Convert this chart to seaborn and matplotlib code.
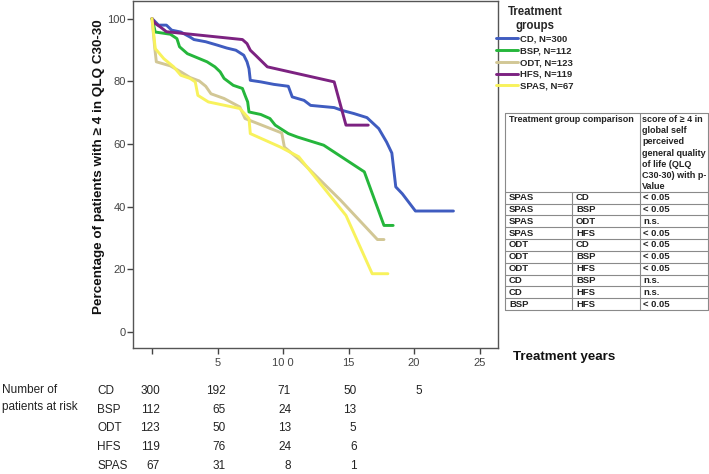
import numpy as np
import pandas as pd
import seaborn as sns
import matplotlib.pyplot as plt
from matplotlib.lines import Line2D
import matplotlib.transforms as mtransforms

# ---------------- data ----------------
groups = ["CD", "BSP", "ODT", "HFS", "SPAS"]
group_n = [300, 112, 123, 119, 67]
group_colors = ["#3f5cc0", "#25b63b", "#d2c795", "#7c2281", "#f8f25c"]

cd_x = [0, 0.5, 1.1, 1.5, 2.2, 2.9, 3.2, 4.1, 5.0, 5.7, 6.4, 7.0, 7.25, 7.4, 7.5, 8.3, 9.3, 10.4, 10.7, 11.6, 12.1, 13.9, 14.5, 15.4, 16.4, 17.3, 17.9, 18.3, 18.6, 19.1, 20.1, 23.0]
cd_y = [100, 97.9, 97.9, 96.3, 95.7, 94.1, 93.3, 92.6, 91.5, 90.6, 89.9, 88.3, 86.2, 84.0, 80.3, 79.8, 79.0, 78.4, 75.0, 73.9, 72.3, 71.6, 70.7, 69.7, 68.4, 64.9, 60.6, 57.1, 46.3, 44.1, 38.6, 38.6]

bsp_x = [0, 0.25, 1.4, 1.9, 2.1, 2.7, 4.2, 4.8, 5.2, 5.5, 6.2, 6.9, 7.1, 7.3, 7.4, 8.3, 9.0, 9.4, 10.4, 11.1, 13.1, 16.2, 17.7, 18.4]
bsp_y = [100, 95.7, 95.0, 93.6, 91.0, 88.8, 86.2, 84.6, 83.0, 80.9, 78.7, 77.7, 75.5, 73.4, 70.2, 69.4, 68.1, 66.0, 63.3, 62.2, 59.6, 51.1, 34.0, 34.0]

odt_x = [0, 0.2, 0.33, 1.4, 2.2, 2.9, 3.6, 4.1, 4.5, 5.5, 6.7, 7.1, 9.9, 10.1, 11.3, 14.4, 17.2, 17.7]
odt_y = [100, 91.0, 86.2, 84.9, 83.0, 81.2, 80.1, 78.4, 76.0, 74.5, 71.8, 68.1, 63.5, 59.0, 54.8, 42.0, 29.5, 29.5]

hfs_x = [0, 0.25, 0.64, 1.1, 6.9, 7.25, 7.5, 7.9, 8.8, 13.9, 14.8, 16.5]
hfs_y = [100, 98.4, 97.3, 95.8, 93.3, 92.0, 89.9, 88.3, 84.6, 79.8, 66.0, 66.0]

spas_x = [0, 0.25, 0.9, 1.65, 2.2, 2.9, 3.3, 3.5, 4.3, 6.7, 7.4, 7.5, 9.8, 11.2, 14.8, 16.8, 18.0]
spas_y = [100, 90.4, 87.2, 84.6, 81.9, 80.9, 79.8, 75.5, 73.4, 71.3, 68.1, 63.3, 59.0, 55.9, 37.2, 18.6, 18.6]

x_ticks = [0, 5, 10, 15, 20, 25]
x_tick_labels = ["", "5", "10 0", "15", "20", "25"]
y_ticks = [0, 20, 40, 60, 80, 100]

risk_years = [0, 5, 10, 15, 20]
risk_cd = [300, 192, 71, 50, 5]
risk_bsp = [112, 65, 24, 13, None]
risk_odt = [123, 50, 13, 5, None]
risk_hfs = [119, 76, 24, 6, None]
risk_spas = [67, 31, 8, 1, None]

cmp_a = ["SPAS", "SPAS", "SPAS", "SPAS", "ODT", "ODT", "ODT", "CD", "CD", "BSP"]
cmp_b = ["CD", "BSP", "ODT", "HFS", "CD", "BSP", "HFS", "BSP", "HFS", "HFS"]
cmp_p = ["< 0.05", "< 0.05", "n.s.", "< 0.05", "< 0.05", "< 0.05", "< 0.05", "n.s.", "n.s.", "< 0.05"]

# ---------------- build frame ----------------
xs = [cd_x, bsp_x, odt_x, hfs_x, spas_x]
ys = [cd_y, bsp_y, odt_y, hfs_y, spas_y]
rows = []
for g, n, gx, gy in zip(groups, group_n, xs, ys):
    lab = f"{g}, N={n}"
    for i, (a, b) in enumerate(zip(gx, gy)):
        rows.append({"group": lab, "years": a, "pct": b, "order": i})
df = pd.DataFrame(rows)
labels = [f"{g}, N={n}" for g, n in zip(groups, group_n)]

# ---------------- figure ----------------
sns.set_theme(style="ticks")
plt.rcParams["font.family"] = ["Liberation Sans", "DejaVu Sans"]

W, H = 709, 474
fig = plt.figure(figsize=(W / 100, H / 100), dpi=100)
fig.patch.set_facecolor("white")

def fx(px):
    return px / W

def fy(py):
    return 1 - py / H

ax = fig.add_axes([fx(133), fy(348), fx(498) - fx(133), fy(1) - fy(348)])
for lab, col in zip(labels, group_colors):
    sub = df[df.group == lab]
    sns.lineplot(data=sub, x="years", y="pct", ax=ax, color=col, lw=2.1,
                 estimator=None, sort=False, label=lab)

ax.set_xlim(-1.45, 26.4)
ax.set_ylim(-5.1, 105.6)
ax.set_xticks(x_ticks)
ax.set_xticklabels(x_tick_labels)
ax.set_yticks(y_ticks)
ax.tick_params(axis="both", labelsize=8, colors="#444444", length=4, width=1, direction="out")
ax.tick_params(axis="y", pad=1)
ax.set_xlabel("")
ax.set_ylabel("Percentage of patients with ≥ 4 in QLQ C30-30", fontsize=9.7,
              fontweight="bold", color="#111111")
ax.yaxis.set_label_coords(-0.076, 0.523)
for s in ax.spines.values():
    s.set_color("#555555")
    s.set_linewidth(1.0)
    s.set_visible(True)

handles, hl = ax.get_legend_handles_labels()
ax.get_legend().remove()
leg = fig.legend(handles, hl, loc="upper left", bbox_to_anchor=(fx(493), fy(3)),
                 frameon=False, title="Treatment\ngroups",
                 prop={"weight": "bold", "size": 6.8},
                 title_fontproperties={"weight": "bold", "size": 8.3},
                 handlelength=2.3, handletextpad=0.3, labelspacing=0.3,
                 borderaxespad=0, borderpad=0.3)
leg._legend_box.align = "center"
leg.get_title().set_multialignment("center")
for l in leg.get_lines():
    l.set_linewidth(2.1)

# ---------------- comparison table ----------------
tcol = "#8a8a8a"
tfs = 6.8
tx0, tx1, tx2, tx3 = 505, 572, 640, 708
ty_top = 113
row_lines = [191.7 + 11.83 * i for i in range(11)]
def hline(y, x0, x1):
    fig.add_artist(Line2D([fx(x0), fx(x1)], [fy(y), fy(y)], color=tcol, lw=0.8))
def vline(x, y0, y1):
    fig.add_artist(Line2D([fx(x), fx(x)], [fy(y0), fy(y1)], color=tcol, lw=0.8))
hline(ty_top, tx0, tx3)
for y in row_lines:
    hline(y, tx0, tx3)
vline(tx0, ty_top, row_lines[-1])
vline(tx2, ty_top, row_lines[-1])
vline(tx3, ty_top, row_lines[-1])
vline(tx1, row_lines[0], row_lines[-1])

fig.text(fx(tx0 + 4), fy(ty_top + 2), "Treatment group comparison", ha="left", va="top",
         fontsize=6.5, fontweight="bold", color="#222222")
hdr = "score of ≥ 4 in\nglobal self\nperceived\ngeneral quality\nof life (QLQ\nC30-30) with p-\nValue"
fig.text(fx(tx2 + 2), fy(ty_top + 2), hdr, ha="left", va="top", fontsize=6.5,
         fontweight="bold", color="#222222", linespacing=1.32)
for i, (a, b, p) in enumerate(zip(cmp_a, cmp_b, cmp_p)):
    yc = (row_lines[i] + row_lines[i + 1]) / 2
    for xx, t in ((tx0 + 4, a), (tx1 + 4, b), (tx2 + 3, p)):
        fig.text(fx(xx), fy(yc), t, ha="left", va="center", fontsize=tfs,
                 fontweight="bold", color="#222222")

# ---------------- x axis title ----------------
fig.text(fx(513), fy(357), "Treatment years", ha="left", va="center", fontsize=9.6,
         fontweight="bold", color="#111111")

# ---------------- risk table ----------------
trans = mtransforms.blended_transform_factory(ax.transData, fig.transFigure)
offset = mtransforms.ScaledTranslation(8 / 100, 0, fig.dpi_scale_trans)
risk = [risk_cd, risk_bsp, risk_odt, risk_hfs, risk_spas]
row_y = [391, 410, 428, 447, 466]
fig.text(fx(2), fy(390), "Number of", ha="left", va="center", fontsize=8.5, color="#222222")
fig.text(fx(2), fy(407), "patients at risk", ha="left", va="center", fontsize=8.5, color="#222222")
for g, vals, yy in zip(groups, risk, row_y):
    fig.text(fx(97), fy(yy), g, ha="left", va="center", fontsize=8.5, color="#222222")
    for yr, v in zip(risk_years, vals):
        if v is None:
            continue
        ax.text(yr, fy(yy), str(v), ha="right", va="center", fontsize=8.5,
                color="#222222", transform=trans + offset, clip_on=False)

fig.savefig("out.png", dpi=100, facecolor="white")
